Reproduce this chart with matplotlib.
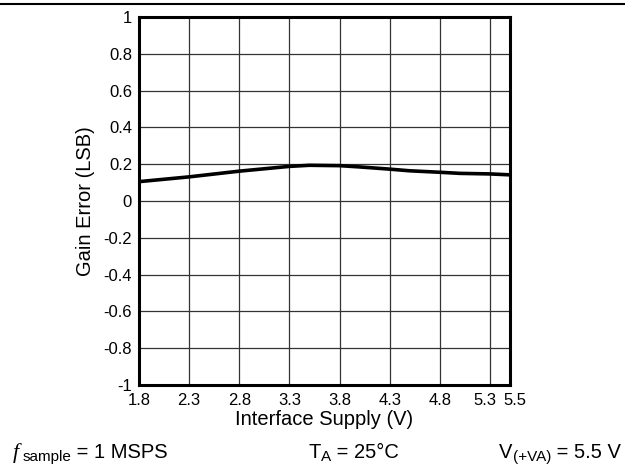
import numpy as np
import matplotlib
matplotlib.use("Agg")
import matplotlib.pyplot as plt
from matplotlib.transforms import ScaledTranslation, IdentityTransform

plt.rcParams['font.family'] = ['Liberation Sans', 'DejaVu Sans']

# Gain error vs interface supply
supply_v = [1.8, 2.3, 2.8, 3.3, 3.5, 3.8, 4.0, 4.3, 4.5, 4.8, 5.0, 5.3, 5.5]
gain_err = [0.105, 0.131, 0.162, 0.188, 0.194, 0.192, 0.185, 0.173, 0.164, 0.156, 0.150, 0.147, 0.142]

x_ticks = [1.8, 2.3, 2.8, 3.3, 3.8, 4.3, 4.8, 5.3, 5.5]
x_labels = ['1.8', '2.3', '2.8', '3.3', '3.8', '4.3', '4.8', '5.3', '5.5']
y_ticks = [-1, -0.8, -0.6, -0.4, -0.2, 0, 0.2, 0.4, 0.6, 0.8, 1]
y_labels = ['-1', '-0.8', '-0.6', '-0.4', '-0.2', '0', '0.2', '0.4', '0.6', '0.8', '1']


def rich_text(fig, x, y, pieces, ha='left'):
    # place text pieces one after another on a shared baseline (pixel coords)
    # each piece: (text, fontsize, drop below baseline, gap before, kwargs)
    r = fig.canvas.get_renderer()
    objs = []
    for s, size, dy, gap, kw in pieces:
        t = fig.text(0, 0, s, fontsize=size, va='baseline', ha='left',
                     transform=IdentityTransform(), **kw)
        objs.append((t, dy, gap))
    widths = [t.get_window_extent(r).width + gap for t, _, gap in objs]
    total = sum(widths)
    if ha == 'right':
        cur = x - total
    elif ha == 'center':
        cur = x - total / 2
    else:
        cur = x
    for (t, dy, gap), w in zip(objs, widths):
        t.set_position((cur + gap, y - dy))
        cur += w


fig = plt.figure(figsize=(6.25, 4.66), dpi=100)
ax = fig.add_axes([0.2224, 0.174, 0.5936, 0.7895])

ax.plot(supply_v, gain_err, color='black', lw=2.6, zorder=3, solid_capstyle='butt')

ax.set_xlim(1.8, 5.5)
ax.set_ylim(-1, 1)
ax.set_xticks(x_ticks)
ax.set_xticklabels(x_labels)
ax.set_yticks(y_ticks)
ax.set_yticklabels(y_labels)
ax.tick_params(length=0, labelsize=12)
ax.tick_params(axis='x', pad=6)
ax.tick_params(axis='y', pad=5)
ax.grid(True, color='#333333', lw=0.9)
for s in ax.spines.values():
    s.set_linewidth(2.2)

# 5.3 and 5.5 sit close together: nudge them apart
lbls = ax.get_xticklabels()
lbls[-2].set_transform(lbls[-2].get_transform() + ScaledTranslation(-5 / 100, 0, fig.dpi_scale_trans))
lbls[-1].set_transform(lbls[-1].get_transform() + ScaledTranslation(5 / 100, 0, fig.dpi_scale_trans))

ax.set_xlabel('Interface Supply (V)', fontsize=14.5, labelpad=1)
ax.set_ylabel('Gain Error (LSB)', fontsize=14.5, labelpad=6)

# rule at the top of the page
fig.add_artist(plt.Line2D([0, 1], [0.991, 0.991], color='black', lw=1.5))

# conditions line at the bottom (baseline ~8 px above the bottom edge)
serif_it = dict(family='Liberation Serif', style='italic')
rich_text(fig, 13, 8, [('f', 16, 0, 0, serif_it), ('sample', 11, 3, 3, {}),
                       (' = 1 MSPS', 14.5, 0, 0, {})])
rich_text(fig, 354, 8, [('T', 14.5, 0, 0, {}), ('A', 11, 3, 0, {}),
                        (' = 25°C', 14.5, 0, 0, {})], ha='center')
rich_text(fig, 621, 8, [('V', 14.5, 0, 0, {}), ('(+VA)', 11, 3, 0, {}),
                        (' = 5.5 V', 14.5, 0, 0, {})], ha='right')

fig.savefig('out.png', dpi=100)
